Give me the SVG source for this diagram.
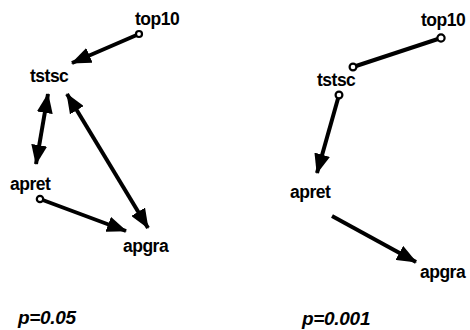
<svg xmlns="http://www.w3.org/2000/svg" width="470" height="330" viewBox="0 0 470 330">
<style>
.lbl{font-family:"Liberation Sans",Arial,sans-serif;font-weight:bold;font-size:17.5px;fill:#000;letter-spacing:-0.5px}
.p{font-family:"Liberation Sans",Arial,sans-serif;font-weight:bold;font-style:italic;font-size:19px;fill:#000;letter-spacing:-0.3px}
.e{stroke:#000;stroke-width:4;fill:none}
.c{stroke:#000;stroke-width:2.2;fill:#fff}
</style>
<defs>
<marker id="ah" viewBox="0 0 20 16" refX="19" refY="8" markerWidth="20" markerHeight="16" markerUnits="userSpaceOnUse" orient="auto-start-reverse">
<path d="M0,0 L20,8 L0,16 Z" fill="#000"/>
</marker>
</defs>
<rect width="470" height="330" fill="#fff"/>
<g id="edges">
<line class="e" x1="139" y1="34" x2="72" y2="63" marker-end="url(#ah)"/>
<line class="e" x1="48" y1="94" x2="36" y2="164" marker-start="url(#ah)" marker-end="url(#ah)"/>
<line class="e" x1="67" y1="94" x2="148" y2="228" marker-start="url(#ah)" marker-end="url(#ah)"/>
<line class="e" x1="40" y1="199" x2="126" y2="231" marker-end="url(#ah)"/>
<line class="e" x1="441" y1="38" x2="353" y2="67"/>
<line class="e" x1="339" y1="95" x2="317" y2="173" marker-end="url(#ah)"/>
<line class="e" x1="332" y1="216" x2="416" y2="262" marker-end="url(#ah)"/>
<circle class="c" cx="139" cy="34" r="3"/>
<circle class="c" cx="40" cy="199" r="3.2"/>
<circle class="c" cx="441" cy="38" r="3.6"/>
<circle class="c" cx="353" cy="67" r="3.4"/>
<circle class="c" cx="339" cy="95" r="3.4"/>
</g>
<g id="top10_a"><text class="lbl" x="135" y="25">top10</text></g>
<g id="tstsc_a"><text class="lbl" x="30" y="82">tstsc</text></g>
<g id="apret_a"><text class="lbl" x="10" y="190">apret</text></g>
<g id="apgra_a"><text class="lbl" x="123" y="252">apgra</text></g>
<g id="p_a"><text class="p" x="18" y="324">p=0.05</text></g>
<g id="top10_b"><text class="lbl" x="421" y="26">top10</text></g>
<g id="tstsc_b"><text class="lbl" x="317" y="86">tstsc</text></g>
<g id="apret_b"><text class="lbl" x="290" y="198">apret</text></g>
<g id="apgra_b"><text class="lbl" x="420" y="278">apgra</text></g>
<g id="p_b"><text class="p" x="302" y="325">p=0.001</text></g>
</svg>
